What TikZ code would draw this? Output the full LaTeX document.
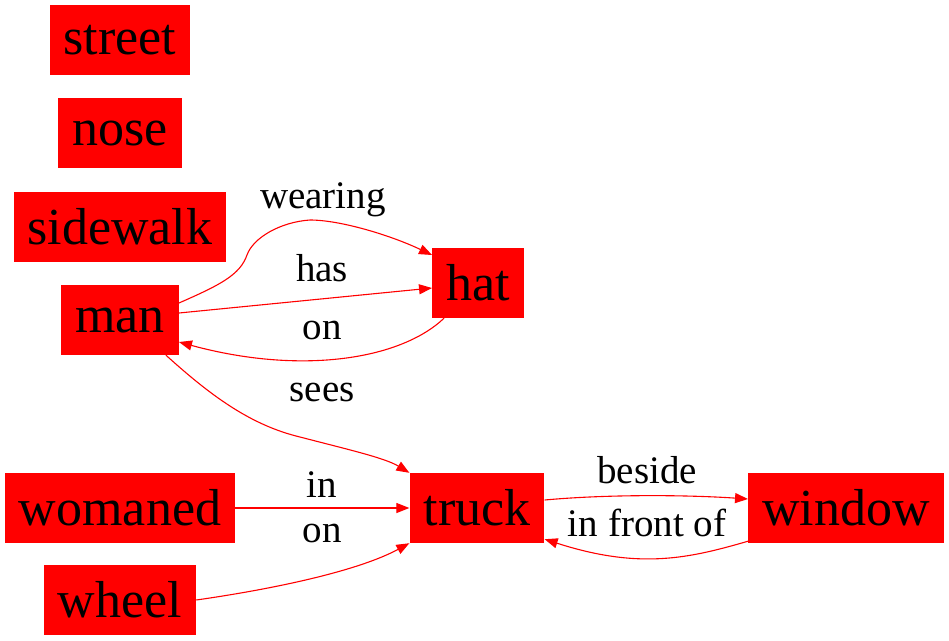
\documentclass[tikz,border=0pt]{standalone}
\usepackage{fontspec}
\setmainfont{Liberation Serif}
\usetikzlibrary{arrows.meta}
\begin{document}
\begin{tikzpicture}[x=1pt,y=-1pt,
  obj/.style={fill=red,draw=none,minimum height=70pt,inner xsep=14pt,inner ysep=0pt,
    font=\fontsize{52}{52}\selectfont,text=black},
  rel/.style={draw=red,line width=1.1pt,-{Triangle[length=13pt,width=10pt]}},
  lab/.style={font=\fontsize{39}{39}\selectfont,text=black,inner sep=0pt}]
\useasboundingbox (0,0) rectangle (949,640);
\node[obj] (street) at (120,40) {street};
\node[obj] (nose) at (120,133) {nose};
\node[obj] (sidewalk) at (120,227) {sidewalk};
\node[obj] (man) at (120,320) {man};
\node[obj] (hat) at (478,283) {hat};
\node[obj] (womaned) at (120,508) {womaned};
\node[obj] (wheel) at (120,600) {wheel};
\node[obj] (truck) at (477,508) {truck};
\node[obj] (window) at (846,508) {window};

\draw[rel] ([yshift=17pt]man.east) .. controls (220,285) and (240,275) .. (247,255)
  .. controls (253,238) and (280,222) .. (310,220)
  .. controls (340,220) and (390,235) .. ([yshift=28pt]hat.west);
\node[lab] (lwearing) at (323,200) {wearing};
\draw[rel] ([yshift=7pt]man.east) -- ([yshift=-5pt]hat.west);
\node[lab] (lhas) at (322,268) {has};
\draw[rel] ([xshift=12pt]hat.south west) .. controls (400,360) and (300,375) .. ([yshift=-22pt]man.east);
\node[lab] (lon1) at (322,330) {on};
\draw[rel] ([xshift=-13pt]man.south east) .. controls (210,395) and (250,425) .. (300,437)
  .. controls (350,450) and (385,458) .. (truck.north west);
\node[lab] (lsees) at (322,392) {sees};
\draw[rel] (womaned.east) -- (truck.west);
\node[lab] (lin) at (322,485) {in};
\draw[rel] (wheel.east) .. controls (280,588) and (360,570) .. (truck.south west);
\node[lab] (lon2) at (322,533) {on};
\draw[rel] ([yshift=8pt]truck.east) .. controls (610,494) and (690,495) .. ([yshift=9pt]window.west);
\node[lab] (lbeside) at (647,470) {beside};
\draw[rel] ([yshift=2pt]window.south west) .. controls (690,558) and (640,570) .. ([yshift=4pt]truck.south east);
\node[lab] (lfront) at (647,523) {in front of};
\end{tikzpicture}
\end{document}
